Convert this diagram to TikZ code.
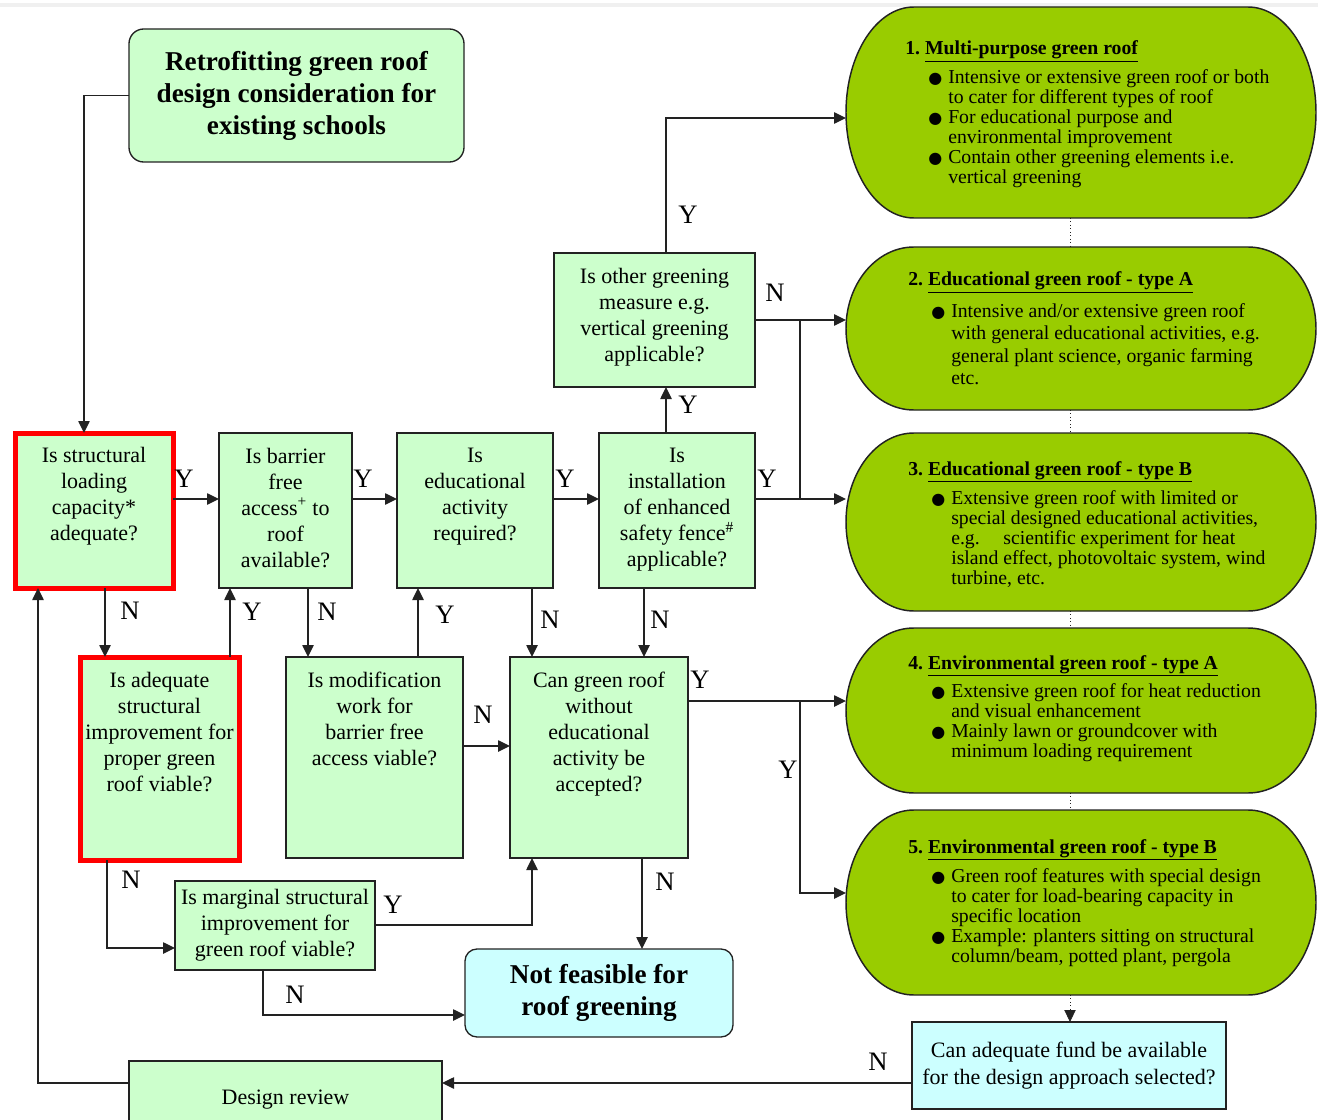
\documentclass[tikz,border=0pt]{standalone}
\usepackage{fontspec}
\setmainfont{Liberation Serif}
\newfontfamily\dejavu{DejaVu Sans}
\usetikzlibrary{arrows.meta,calc}
\newdimen\px \px=0.75pt
\definecolor{lgreen}{HTML}{CCFFCC}
\definecolor{lcyan}{HTML}{CCFFFF}
\definecolor{ovgreen}{HTML}{99CC00}
\definecolor{linec}{HTML}{222222}
% box text: width, height, top pad, text (px)
\newcommand\qb[4]{\parbox[c][#2\px][t]{#1\px}{\centering\vspace*{#3\px}#4\par}}
\newcommand\qc[3]{\parbox[c][#2\px][c]{#1\px}{\centering #3\par}}
\newcommand\bul{\hspace*{23\px}\makebox[20\px][l]{\fontsize{12pt}{12pt}\dejavu ●}}
\newcommand\ovfont{\fontsize{14.8pt}{15pt}\selectfont}
\newcommand\bxfont{\fontsize{16.5pt}{19.5pt}\selectfont}
\newcommand\bigfont{\fontsize{20.4pt}{24pt}\selectfont\bfseries}
\newcommand\stadium[4]{%
 \pgfmathsetmacro\stSX{#1}\pgfmathsetmacro\stSY{#2}%
 \pgfmathsetmacro\stEX{#3}\pgfmathsetmacro\stEY{#4}%
 \pgfmathsetmacro\stCY{(#2+#4)/2}\pgfmathsetmacro\stRY{(#4-#2)/2}%
 \pgfmathsetmacro\stRX{68}\pgfmathsetmacro\stKX{0.5523*68}\pgfmathsetmacro\stKY{0.5523*\stRY}%
 \draw[ovalline] (\stSX+\stRX,\stSY) -- (\stEX-\stRX,\stSY)
   .. controls (\stEX-\stRX+\stKX,\stSY) and (\stEX,\stCY-\stKY) .. (\stEX,\stCY)
   .. controls (\stEX,\stCY+\stKY) and (\stEX-\stRX+\stKX,\stEY) .. (\stEX-\stRX,\stEY)
   -- (\stSX+\stRX,\stEY)
   .. controls (\stSX+\stRX-\stKX,\stEY) and (\stSX,\stCY+\stKY) .. (\stSX,\stCY)
   .. controls (\stSX,\stCY-\stKY) and (\stSX+\stRX-\stKX,\stSY) .. (\stSX+\stRX,\stSY) -- cycle;
}
\begin{document}
\begin{tikzpicture}[x=0.75pt,y=-0.75pt,
  qbox/.style={draw=linec, line width=1pt, fill=lgreen, inner sep=0, outer sep=0, anchor=north west, font=\bxfont},
  redbox/.style={qbox, draw=red, line width=3.75pt},
  redline/.style={draw=red, line width=3.75pt},
  cbox/.style={qbox, fill=lcyan},
  ovalline/.style={draw=linec, line width=1.1pt, fill=ovgreen},
  ovtext/.style={anchor=base west, inner sep=0, font=\ovfont},
  conn/.style={draw=linec, line width=1.1pt},
  arr/.style={conn, -{Triangle[length=9pt,width=8.5pt]}},
  dotl/.style={draw=linec, line width=0.6pt, dotted},
  lbl/.style={inner sep=0, font=\fontsize{20pt}{20pt}\selectfont}]
\useasboundingbox (0,0) rectangle (1318,1120);
\clip (0,0) rectangle (1318,1120);
\fill[gray!12] (0,3) rectangle (1318,7);

% ---------- ovals ----------
\stadium{846}{7}{1316}{218}
\stadium{846}{247}{1316}{410}
\stadium{846}{433}{1316}{611}
\stadium{846}{628}{1316}{793}
\stadium{846}{810}{1316}{995}
\coordinate (o1w) at (846,112.5); \coordinate (o1s) at (1070,218);
\coordinate (o2w) at (846,328.5); \coordinate (o2n) at (1070,247); \coordinate (o2s) at (1070,410);
\coordinate (o3w) at (846,522);   \coordinate (o3n) at (1070,433); \coordinate (o3s) at (1070,611);
\coordinate (o4w) at (846,710.5); \coordinate (o4n) at (1070,628); \coordinate (o4s) at (1070,793);
\coordinate (o5w) at (846,902.5); \coordinate (o5n) at (1070,810); \coordinate (o5s) at (1070,995);

\node[ovtext] (t1) at (905,55) {\begin{tabular}[t]{@{}l@{}l@{}}
\multicolumn{2}{@{}l@{}}{\textbf{1.\ \underline{Multi-purpose green roof}}}\\[6.5pt]
\bul & Intensive or extensive green roof or both\\
 & to cater for different types of roof\\
\bul & For educational purpose and\\
 & environmental improvement\\
\bul & Contain other greening elements i.e.\\
 & vertical greening
\end{tabular}};
\node[ovtext] (t2) at (908,286) {\renewcommand\arraystretch{1.115}\begin{tabular}[t]{@{}l@{}l@{}}
\multicolumn{2}{@{}l@{}}{\textbf{2.\ \underline{Educational green roof - type A}}}\\[7pt]
\bul & Intensive and/or extensive green roof\\
 & with general educational activities, e.g.\\
 & general plant science, organic farming\\
 & etc.
\end{tabular}};
\node[ovtext] (t3) at (908,475) {\begin{tabular}[t]{@{}l@{}l@{}}
\multicolumn{2}{@{}l@{}}{\textbf{3.\ \underline{Educational green roof - type B}}}\\[7pt]
\bul & Extensive green roof with limited or\\
 & special designed educational activities,\\
 & e.g.\hspace{1.2em}scientific experiment for heat\\
 & island effect, photovoltaic system, wind\\
 & turbine, etc.
\end{tabular}};
\node[ovtext] (t4) at (908,669) {\begin{tabular}[t]{@{}l@{}l@{}}
\multicolumn{2}{@{}l@{}}{\textbf{4.\ \underline{Environmental green roof - type A}}}\\[6.5pt]
\bul & Extensive green roof for heat reduction\\
 & and visual enhancement\\
\bul & Mainly lawn or groundcover with\\
 & minimum loading requirement
\end{tabular}};
\node[ovtext] (t5) at (908,853) {\begin{tabular}[t]{@{}l@{}l@{}}
\multicolumn{2}{@{}l@{}}{\textbf{5.\ \underline{Environmental green roof - type B}}}\\[7pt]
\bul & Green roof features with special design\\
 & to cater for load-bearing capacity in\\
 & specific location\\
\bul & Example: planters sitting on structural\\
 & column/beam, potted plant, pergola
\end{tabular}};

% dotted links between ovals
\draw[dotl] (o1s) -- (o2n);
\draw[dotl] (o2s) -- (o3n);
\draw[dotl] (o3s) -- (o4n);
\draw[dotl] (o4s) -- (o5n);

% ---------- boxes ----------
\node[qbox, rounded corners=11pt] (title) at (129,29) {\bigfont\qc{335}{133}{Retrofitting green roof\\design consideration for\\existing schools}};
\node[redbox] (b1) at (15,433) {\qb{158}{155}{14}{Is structural\\loading\\capacity*\\adequate?}};
\node[qbox] (b2) at (219,433) {\qb{133}{155}{15}{Is barrier\\free\\access\textsuperscript{+} to\\roof\\available?}};
\node[qbox] (b3) at (397,433) {\qb{156}{155}{15}{Is\\educational\\activity\\required?}};
\node[qbox] (b4) at (599,433) {\qb{156}{155}{15}{Is\\installation\\of enhanced\\safety fence\textsuperscript{\#}\\applicable?}};
\node[qbox] (b5) at (554,253) {\qb{201}{134}{15}{Is other greening\\measure e.g.\\vertical greening\\applicable?}};
\node[redbox] (b6) at (80,657) {\qb{159}{203}{15}{Is adequate\\structural\\improvement for\\proper green\\roof viable?}};
\draw[redline] (b6.south west) rectangle (b6.north east);
\node[qbox] (b7) at (286,657) {\qb{177}{201}{15}{Is modification\\work for\\barrier free\\access viable?}};
\node[qbox] (b8) at (510,657) {\qb{178}{201}{15}{Can green roof\\without\\educational\\activity be\\accepted?}};
\node[qbox] (b9) at (175,881) {\qb{200}{89}{8}{Is marginal structural\\improvement for\\green roof viable?}};
\node[cbox, rounded corners=9pt] (nf) at (465,949) {\bigfont\qc{268}{88}{Not feasible for\\roof greening}};
\node[cbox] (fund) at (912,1022) {\fontsize{16.5pt}{20.25pt}\selectfont\qc{314}{87}{Can adequate fund be available\\for the design approach selected?}};
\node[qbox] (dr) at (129,1061) {\qc{313}{78}{Design review}};

% ---------- connectors ----------
\draw[arr] (title.west) -| ($(b1.north)+(-10,0)$);
\draw[arr] (b1.east |- 0,499) -- (b2.west |- 0,499);
\draw[arr] (b2.east |- 0,499) -- (b3.west |- 0,499);
\draw[arr] (b3.east |- 0,499) -- (b4.west |- 0,499);
\draw[arr] (b4.east |- 0,499) -- (o3w |- 0,499);
\draw[arr] (b4.north -| 666,0) -- (b5.south -| 666,0);
\draw[arr] (b5.north -| 666,0) |- (o1w |- 0,118);
\draw[arr] (b5.east |- 0,320) -- (o2w |- 0,320);
\coordinate (j1) at (800,320); \coordinate (j2) at (800,499);
\draw[conn] (j1) -- (j2);
\draw[arr] (b8.east |- 0,701) -- (o4w |- 0,701);
\coordinate (j3) at (800,701);
\draw[arr] (j3) |- (o5w |- 0,893);
\draw[arr] (b1.south -| 105,0) -- (b6.north -| 105,0);
\draw[arr] (b6.north -| 230,0) -- (b2.south -| 230,0);
\draw[arr] (b2.south -| 308,0) -- (b7.north -| 308,0);
\draw[arr] (b7.north -| 418,0) -- (b3.south -| 418,0);
\draw[arr] (b3.south -| 532,0) -- (b8.north -| 532,0);
\draw[arr] (b4.south -| 644,0) -- (b8.north -| 644,0);
\draw[arr] (b7.east |- 0,746) -- (b8.west |- 0,746);
\draw[arr] (b6.south -| 107,0) |- (b9.west |- 0,948);
\draw[arr] (b9.east |- 0,925) -| (b8.south -| 532,0);
\draw[arr] (b8.south -| 642,0) -- (nf.north -| 642,0);
\draw[arr] (b9.south -| 263,0) |- (nf.west |- 0,1015);
\draw[dotl, -{Triangle[length=9pt,width=8.5pt]}] (o5s) -- (fund.north -| o5s);
\draw[arr] (fund.west |- 0,1083) -- (dr.east |- 0,1083);
\draw[arr] (dr.west |- 0,1083) -| (b1.south -| 38,0);

% ---------- labels ----------
\node[lbl] (y1) at (184,479) {Y};
\node[lbl] (y2) at (363,479) {Y};
\node[lbl] (y3) at (565,479) {Y};
\node[lbl] (y4) at (767,479) {Y};
\node[lbl] (y5) at (688,405) {Y};
\node[lbl] (y6) at (688,215) {Y};
\node[lbl] (n1) at (775,293) {N};
\node[lbl] (y7) at (700,680) {Y};
\node[lbl] (y8) at (788,770) {Y};
\node[lbl] (n2) at (130,611) {N};
\node[lbl] (y9) at (252,612) {Y};
\node[lbl] (n3) at (327,612) {N};
\node[lbl] (y10) at (445,615) {Y};
\node[lbl] (n4) at (550,620) {N};
\node[lbl] (n5) at (660,620) {N};
\node[lbl] (n6) at (483,715) {N};
\node[lbl] (n7) at (131,880) {N};
\node[lbl] (y11) at (393,905) {Y};
\node[lbl] (n8) at (665,882) {N};
\node[lbl] (n9) at (295,995) {N};
\node[lbl] (n10) at (878,1062) {N};
\end{tikzpicture}
\end{document}
